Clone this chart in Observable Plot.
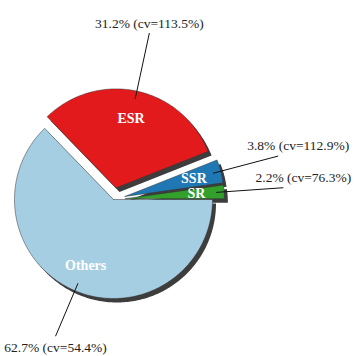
<!DOCTYPE html>
<html>
<head>
<meta charset="utf-8">
<script src="https://cdn.jsdelivr.net/npm/d3@7"></script>
<script src="https://cdn.jsdelivr.net/npm/@observablehq/plot@0.6"></script>
<style>
  html, body { margin: 0; padding: 0; background: #fff; }
  #chart svg { display: block; }
</style>
</head>
<body>
<div id="chart"></div>
<script>
// ---- data ----
const names = ["Others", "ESR", "SSR", "SR"];
const shares = [62.7, 31.2, 3.8, 2.2];
const cvs = [54.4, 113.5, 112.9, 76.3];
const colors = ["#a6cee3", "#e31a1c", "#1f78b4", "#33a02c"];
const exploded = ["ESR", "SSR", "SR"];

// ---- layout (units of pie radius) ----
const W = 360, H = 356, R = 99;            // pixels per radius unit
const CX = 113, CY = 199;                  // pie centre within the frame
const EXPLODE = 0.12;
const SHADOW = [3.5 / R, 4 / R];
const px = v => v / R;

const total = d3.sum(shares);
let acc = 0;
const slices = names.map((name, i) => {
  const a0 = acc / total * 2 * Math.PI;
  acc += shares[i];
  const a1 = acc / total * 2 * Math.PI;
  const mid = (a0 + a1) / 2;
  const off = exploded.includes(name) ? EXPLODE : 0;
  return {name, share: shares[i], cv: cvs[i], color: colors[i], a0, a1, mid, off,
          cx: off * Math.cos(mid), cy: off * Math.sin(mid)};
});

// polygon outline of each slice
function outline(s, dx = 0, dy = 0) {
  const pts = [{name: s.name, x: s.cx + dx, y: s.cy + dy}];
  const n = Math.max(2, Math.ceil((s.a1 - s.a0) / (Math.PI / 180)));
  for (let k = 0; k <= n; k++) {
    const a = s.a0 + (s.a1 - s.a0) * k / n;
    pts.push({name: s.name, x: s.cx + Math.cos(a) + dx, y: s.cy + Math.sin(a) + dy});
  }
  pts.push({name: s.name, x: s.cx + dx, y: s.cy + dy});
  return pts;
}
const slicePts = slices.flatMap(s => outline(s));
const shadowPts = slices.flatMap(s => outline(s, SHADOW[0], SHADOW[1]));

// inner labels
const inner = slices.map(s => ({name: s.name,
  x: s.cx + 0.72 * Math.cos(s.mid), y: s.cy + 0.72 * Math.sin(s.mid)}));

// leader lines and outer labels
const leaders = slices.map(s => {
  const rOut = s.off ? 1.6 : 1.5;
  const x1 = s.cx + 0.92 * Math.cos(s.mid), y1 = s.cy + 0.92 * Math.sin(s.mid);
  const x2 = s.cx + rOut * Math.cos(s.mid), y2 = s.cy + rOut * Math.sin(s.mid);
  const side = Math.abs(Math.cos(s.mid)) > 0.9;
  const tdx = side ? px(20) : 0;
  const tdy = side ? px(-10.5) : (Math.sin(s.mid) < 0 ? px(-9.5) : px(11.5));
  return {name: s.name, x1, y1, x2, y2, tx: x2 + tdx, ty: y2 + tdy,
          label: `${s.share.toFixed(1)}% (cv=${s.cv.toFixed(1)}%)`};
});

const serif = "'Liberation Serif', 'DejaVu Serif', serif";

const chart = Plot.plot({
  width: W, height: H,
  marginTop: 0, marginRight: 0, marginBottom: 0, marginLeft: 0,
  x: {domain: [-CX / R, (W - CX) / R], axis: null},
  y: {domain: [-CY / R, (H - CY) / R], reverse: true, axis: null},
  color: {domain: names, range: colors},
  marks: [
    Plot.line(shadowPts, {x: "x", y: "y", z: "name", fill: "#3d3d3d", stroke: "none"}),
    Plot.line(slicePts, {x: "x", y: "y", z: "name", fill: "name", stroke: "#333", strokeWidth: 0.5}),
    Plot.text(inner, {x: "x", y: "y", text: "name", fill: "white", fontWeight: "bold",
      fontSize: 14, fontFamily: serif}),
    Plot.link(leaders, {x1: "x1", y1: "y1", x2: "x2", y2: "y2", stroke: "#111", strokeWidth: 1}),
    Plot.text(leaders, {x: "tx", y: "ty", text: "label", fill: "#222",
      fontSize: 13.5, fontFamily: serif})
  ]
});
document.getElementById("chart").appendChild(chart);
</script>
</body>
</html>
